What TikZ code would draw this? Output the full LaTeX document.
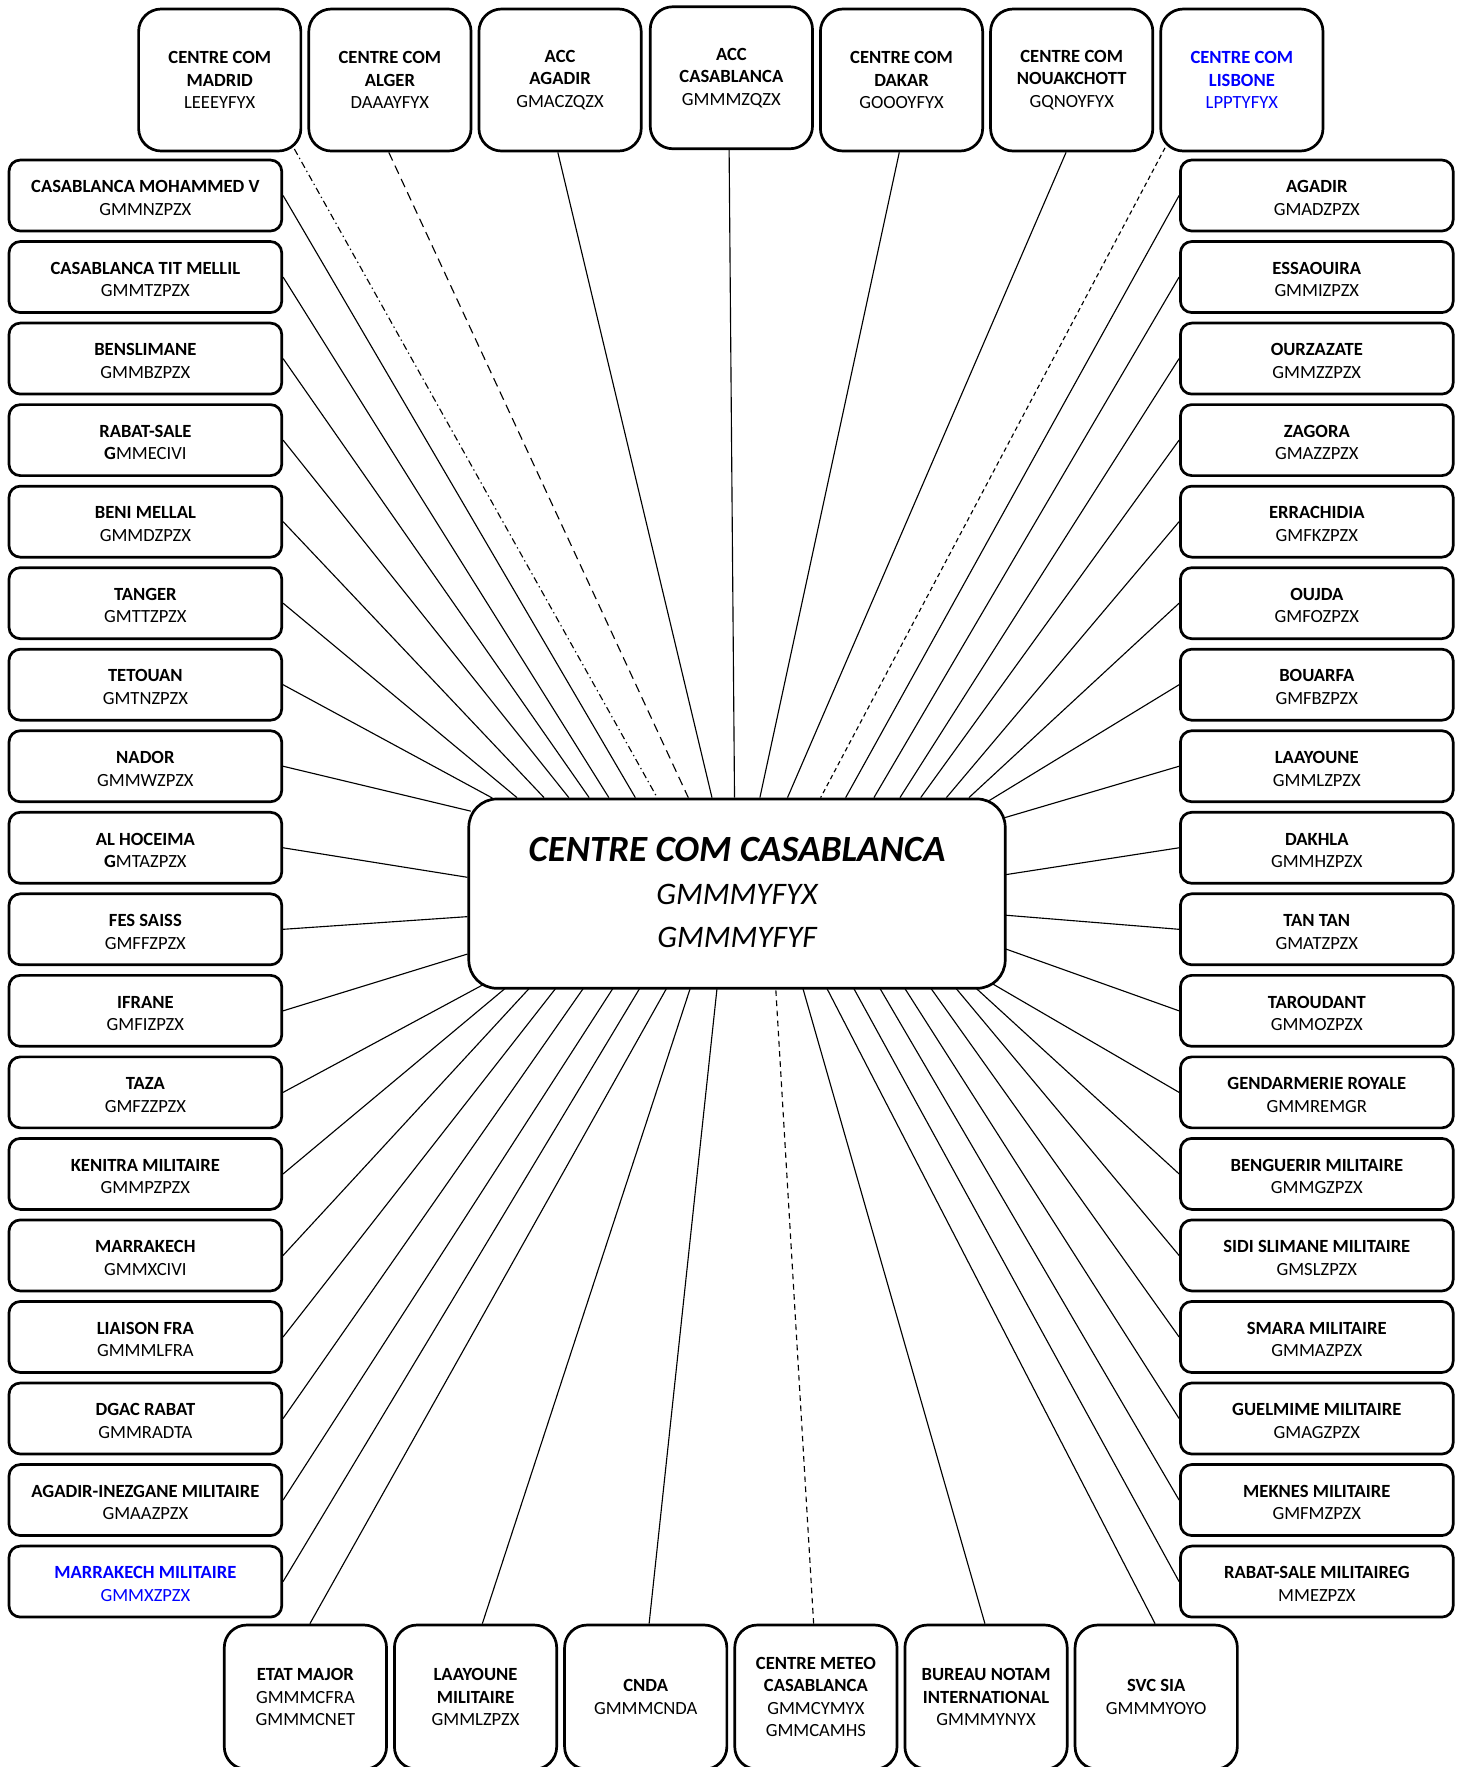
\documentclass[tikz,border=0pt]{standalone}
\usepackage{fontspec}
\setmainfont{Carlito}
\usetikzlibrary{calc}
\definecolor{lblue}{RGB}{0,0,255}
\pgfdeclarelayer{bg}
\pgfsetlayers{bg,main}
\begin{document}
\begin{tikzpicture}[x=0.5pt,y=-0.5pt,
  box/.style={draw,line width=1.2pt,fill=white,align=center,inner sep=0pt,font=\fontsize{8.25}{10}\selectfont},
  topbox/.style={box,rounded corners=10pt,minimum width=72pt,minimum height=63pt},
  sidebox/.style={box,rounded corners=5pt,minimum width=121pt,minimum height=31.5pt},
  botbox/.style={box,rounded corners=10pt,minimum width=72pt,minimum height=64pt},
  conn/.style={line width=0.5pt}]
\useasboundingbox (0,0) rectangle (1296,1568);

% centre
\node[draw,line width=1.2pt,rounded corners=12.5pt,minimum width=238pt,minimum height=84pt,fill=white,inner sep=0pt] (cc) at (654,793) {};
\node[font=\fontsize{16.4}{20}\selectfont\bfseries\itshape,inner sep=0pt] (cct) at (654,754) {CENTRE COM CASABLANCA};
\node[font=\fontsize{13.9}{17}\selectfont\itshape,inner sep=0pt] (cc1) at (654,794) {GMMMYFYX};
\node[font=\fontsize{13.9}{17}\selectfont\itshape,inner sep=0pt] (cc2) at (654,832) {GMMMYFYF};

% top boxes
\node[topbox] (tmad) at (195,71) {\textbf{CENTRE COM}\\\textbf{MADRID}\\LEEEYFYX};
\node[topbox] (talg) at (346,71) {\textbf{CENTRE COM}\\\textbf{ALGER}\\DAAAYFYX};
\node[topbox] (taga) at (497,71) {\textbf{ACC}\\\textbf{AGADIR}\\GMACZQZX};
\node[topbox] (tcas) at (649,69) {\textbf{ACC}\\\textbf{CASABLANCA}\\GMMMZQZX};
\node[topbox] (tdak) at (800,71) {\textbf{CENTRE COM}\\\textbf{DAKAR}\\GOOOYFYX};
\node[topbox] (tnou) at (951,71) {\textbf{CENTRE COM}\\\textbf{NOUAKCHOTT}\\GQNOYFYX};
\node[topbox,text=lblue] (tlis) at (1102,71) {\textbf{CENTRE COM}\\\textbf{LISBONE}\\LPPTYFYX};

% left column
\foreach \i/\a/\b/\c in {
  1/CASABLANCA MOHAMMED V/GMMNZPZX/black,
  2/CASABLANCA TIT MELLIL/GMMTZPZX/black,
  3/BENSLIMANE/GMMBZPZX/black,
  4/RABAT-SALE/\textbf{G}MMECIVI/black,
  5/BENI MELLAL/GMMDZPZX/black,
  6/TANGER/GMTTZPZX/black,
  7/TETOUAN/GMTNZPZX/black,
  8/NADOR/GMMWZPZX/black,
  9/AL HOCEIMA/\textbf{G}MTAZPZX/black,
  10/FES SAISS/GMFFZPZX/black,
  11/IFRANE/GMFIZPZX/black,
  12/TAZA/GMFZZPZX/black,
  13/KENITRA MILITAIRE/GMMPZPZX/black,
  14/MARRAKECH/GMMXCIVI/black,
  15/LIAISON FRA/GMMMLFRA/black,
  16/DGAC RABAT/GMMRADTA/black,
  17/AGADIR-INEZGANE MILITAIRE/GMAAZPZX/black,
  18/MARRAKECH MILITAIRE/GMMXZPZX/lblue}
  \node[sidebox,text=\c] (l\i) at (129,{173.5+72.35*(\i-1)}) {\rule{0pt}{7.6pt}\textbf{\a}\\\b};

% right column
\foreach \i/\a/\b in {
  1/AGADIR/GMADZPZX,
  2/ESSAOUIRA/GMMIZPZX,
  3/OURZAZATE/GMMZZPZX,
  4/ZAGORA/GMAZZPZX,
  5/ERRACHIDIA/GMFKZPZX,
  6/OUJDA/GMFOZPZX,
  7/BOUARFA/GMFBZPZX,
  8/LAAYOUNE/GMMLZPZX,
  9/DAKHLA/GMMHZPZX,
  10/TAN TAN/GMATZPZX,
  11/TAROUDANT/GMMOZPZX,
  12/GENDARMERIE ROYALE/GMMREMGR,
  13/BENGUERIR MILITAIRE/GMMGZPZX,
  14/SIDI SLIMANE MILITAIRE/GMSLZPZX,
  15/SMARA MILITAIRE/GMMAZPZX,
  16/GUELMIME MILITAIRE/GMAGZPZX,
  17/MEKNES MILITAIRE/GMFMZPZX,
  18/RABAT-SALE MILITAIREG/MMEZPZX}
  \node[sidebox] (r\i) at (1168.5,{173.5+72.35*(\i-1)}) {\rule{0pt}{7.6pt}\textbf{\a}\\\b};

% bottom boxes
\node[botbox] (b1) at (271,1506) {\textbf{ETAT MAJOR}\\GMMMCFRA\\GMMMCNET};
\node[botbox] (b2) at (422,1506) {\textbf{LAAYOUNE}\\\textbf{MILITAIRE}\\GMMLZPZX};
\node[botbox] (b3) at (573,1506) {\textbf{CNDA}\\GMMMCNDA};
\node[botbox] (b4) at (724,1506) {\textbf{CENTRE METEO}\\\textbf{CASABLANCA}\\GMMCYMYX\\GMMCAMHS};
\node[botbox] (b5) at (875,1506) {\textbf{BUREAU NOTAM}\\\textbf{INTERNATIONAL}\\GMMMYNYX};
\node[botbox] (b6) at (1026,1506) {\textbf{SVC SIA}\\GMMMYOYO};

\begin{pgfonlayer}{bg}
% solid connectors
\foreach \s/\dx/\dy in {
  l1.east/149/0, l2.east/125.5/0, l3.east/108/0, l4.east/90/0, l5.east/68/0,
  l6.east/44/0, l7.east/22/0.3, l8.east/3/12, l9.east/0/70.7, l10.east/0/105.6,
  l11.east/0/138.8, l12.east/15/165.4, l13.east/35/168, l14.east/56/168,
  l15.east/79.3/168, l16.east/103.7/168, l17.east/129.9/168, l18.east/153.6/168,
  r1.west/335.6/0, r2.west/360.7/0, r3.west/383.8/0, r4.west/402.2/0, r5.west/425/0,
  r6.west/445/0, r7.west/463/2.6, r8.west/476/18, r9.west/476/68.6, r10.west/476/104.2,
  r11.west/476/133.7, r12.west/463/163.5, r13.west/450.1/168, r14.west/432.5/168,
  r15.west/410.4/168, r16.west/387.3/168, r17.west/365.3/168, r18.west/342.1/168}
  \draw[conn] (\s) -- ($(cc.north west)+(\dx,\dy)$);
\draw[conn] ($(taga.south)+(-2,0)$) -- ($(cc.north west)+(217,0)$);
\draw[conn] ($(tcas.south)+(-2,0)$) -- ($(cc.north west)+(237,0)$);
\draw[conn] ($(tdak.south)+(-2,0)$) -- ($(cc.north west)+(259.5,0)$);
\draw[conn] ($(tnou.south)+(-5,0)$) -- ($(cc.north west)+(284,0)$);
\draw[conn] ($(b1.north)+(4,0)$) -- ($(cc.north west)+(177.4,168)$);
\draw[conn] ($(b2.north)+(6,0)$) -- ($(cc.north west)+(198.1,168)$);
\draw[conn] ($(b3.north)+(3,0)$) -- ($(cc.north west)+(221.6,168)$);
\draw[conn] ($(b5.north)+(-1,0)$) -- ($(cc.north west)+(297.3,168)$);
\draw[conn] ($(b6.north)+(-1,0)$) -- ($(cc.north west)+(318.3,168)$);
% styled connectors
\draw[conn,dash pattern=on 3pt off 1.5pt on 0.6pt off 1.5pt] ($(tmad.south east)+(-7,-3)$) -- ($(cc.north west)+(168.4,0)$);
\draw[conn,dash pattern=on 4pt off 2.5pt] ($(talg.south)+(-1,0)$) -- ($(cc.north west)+(196,0)$);
\draw[conn,dash pattern=on 2pt off 1.5pt] ($(tlis.south west)+(5,-4)$) -- ($(cc.north west)+(313.4,0)$);
\draw[conn,dash pattern=on 2.5pt off 2pt] ($(b4.north)+(-2,0)$) -- ($(cc.north west)+(273.5,168)$);
\end{pgfonlayer}
\end{tikzpicture}
\end{document}
